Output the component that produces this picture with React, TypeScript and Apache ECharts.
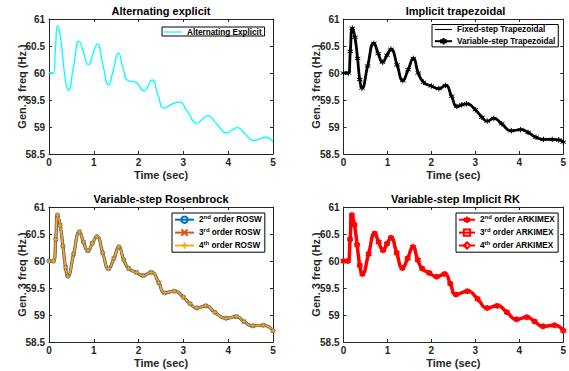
import React, { useEffect, useRef } from 'react';
import * as echarts from 'echarts';

// ---- data ----
const X_TICKS = [0, 1, 2, 3, 4, 5];
const Y_TICKS = [58.5, 59, 59.5, 60, 60.5, 61];

const TITLES = [
  'Alternating explicit',
  'Implicit trapezoidal',
  'Variable-step Rosenbrock',
  'Variable-step Implicit RK',
];

// Alternating explicit
const T_ALT = [0, 0.1, 0.145, 0.19, 0.25, 0.31, 0.37, 0.43, 0.55, 0.67, 0.775, 0.88, 0.98, 1.08, 1.2, 1.33, 1.44, 1.55, 1.65, 1.76, 1.93, 2.12, 2.3, 2.43, 2.57, 2.73, 2.9, 3.1, 3.3, 3.42, 3.54, 3.75, 3.97, 4.08, 4.2, 4.38, 4.57, 4.7, 4.83, 5.0];
const F_ALT = [60.0, 60.0, 60.45, 60.87, 60.70, 60.27, 59.85, 59.68, 60.13, 60.59, 60.37, 60.15, 60.35, 60.54, 60.16, 59.78, 60.07, 60.37, 60.1, 59.86, 59.83, 59.67, 59.87, 59.6, 59.35, 59.42, 59.46, 59.27, 59.07, 59.14, 59.21, 59.05, 58.89, 58.94, 58.99, 58.87, 58.75, 58.78, 58.81, 58.72];

// Implicit trapezoidal (fixed and variable step coincide)
const T_TRAP = [0, 0.11, 0.155, 0.2, 0.26, 0.32, 0.37, 0.42, 0.55, 0.69, 0.79, 0.89, 0.99, 1.08, 1.22, 1.35, 1.47, 1.59, 1.7, 1.82, 2.0, 2.17, 2.32, 2.46, 2.58, 2.69, 2.8, 3.0, 3.15, 3.27, 3.42, 3.6, 3.82, 4.03, 4.2, 4.38, 4.55, 4.75, 4.9, 5.0];
const F_TRAP = [60.0, 60.0, 60.4, 60.83, 60.66, 60.27, 59.88, 59.72, 60.13, 60.55, 60.36, 60.2, 60.33, 60.44, 60.15, 59.86, 60.06, 60.27, 60.0, 59.83, 59.76, 59.71, 59.77, 59.57, 59.38, 59.41, 59.43, 59.32, 59.18, 59.11, 59.16, 59.06, 58.93, 58.95, 58.9, 58.81, 58.77, 58.77, 58.76, 58.72];

// Variable-step Rosenbrock (2nd/3rd/4th order coincide)
const T_ROSW = [0, 0.1, 0.15, 0.19, 0.25, 0.31, 0.37, 0.42, 0.55, 0.68, 0.77, 0.87, 0.97, 1.07, 1.2, 1.33, 1.45, 1.56, 1.67, 1.78, 1.95, 2.1, 2.28, 2.45, 2.58, 2.8, 3.0, 3.15, 3.3, 3.5, 3.7, 3.95, 4.18, 4.35, 4.55, 4.78, 5.0];
const F_ROSW = [60.0, 60.0, 60.4, 60.85, 60.66, 60.28, 59.88, 59.72, 60.13, 60.54, 60.35, 60.19, 60.33, 60.45, 60.15, 59.86, 60.05, 60.26, 60.02, 59.86, 59.79, 59.73, 59.79, 59.6, 59.41, 59.44, 59.33, 59.21, 59.13, 59.17, 59.05, 58.94, 58.97, 58.88, 58.8, 58.81, 58.71];

// Variable-step Implicit RK (2nd/3rd/4th order coincide)
const T_ARK = [0, 0.1, 0.15, 0.19, 0.25, 0.31, 0.37, 0.43, 0.57, 0.71, 0.8, 0.9, 0.99, 1.08, 1.21, 1.34, 1.46, 1.58, 1.69, 1.79, 1.95, 2.12, 2.3, 2.43, 2.56, 2.82, 3.05, 3.27, 3.5, 3.72, 3.94, 4.17, 4.35, 4.54, 4.8, 5.0];
const F_ARK = [60.0, 60.0, 60.4, 60.85, 60.67, 60.3, 59.92, 59.76, 60.13, 60.51, 60.35, 60.2, 60.32, 60.43, 60.15, 59.87, 60.05, 60.26, 60.02, 59.86, 59.78, 59.71, 59.76, 59.58, 59.38, 59.44, 59.3, 59.13, 59.17, 59.05, 58.92, 58.96, 58.88, 58.79, 58.81, 58.71];

const X_LABEL = 'Time (sec)';
const Y_LABEL = 'Gen. 3 freq (Hz.)';

// ---- styling ----
const FONT = '"Liberation Sans", Arial, Helvetica, sans-serif';
const AX = '#262626';
const GRIDS = [
  { left: 49, top: 19, width: 224, height: 135 },
  { left: 343.5, top: 19, width: 224, height: 135 },
  { left: 49, top: 207, width: 224, height: 135 },
  { left: 343.5, top: 207, width: 224, height: 135 },
];

const SYM_STAR = 'path://M5,0L5,10M0.67,2.5L9.33,7.5M0.67,7.5L9.33,2.5';
const SYM_X = 'path://M0,0L10,10M0,10L10,0';
const SYM_PLUS = 'path://M5,0L5,10M0,5L10,5';
const ICON_LINE = 'path://M0,0L40,0L40,2.6L0,2.6Z';

const pairs = (t: number[], f: number[]) => t.map((v, i) => [v, f[i]]);

function buildOption() {
  const xMin = X_TICKS[0], xMax = X_TICKS[X_TICKS.length - 1], xInt = X_TICKS[1] - X_TICKS[0];
  const yMin = Y_TICKS[0], yMax = Y_TICKS[Y_TICKS.length - 1], yInt = Y_TICKS[1] - Y_TICKS[0];
  const lineStyle = { color: AX, width: 1 };
  const xAxis: any[] = [];
  const yAxis: any[] = [];
  GRIDS.forEach((_, gi) => {
    xAxis.push({
      type: 'value', gridIndex: gi, min: xMin, max: xMax, interval: xInt, position: 'bottom',
      axisLine: { show: true, onZero: false, lineStyle },
      axisTick: { show: true, inside: true, length: 3, lineStyle },
      axisLabel: { fontSize: 10, fontWeight: 'bold', color: AX, fontFamily: FONT, margin: 3 },
      splitLine: { show: false },
      name: X_LABEL, nameLocation: 'middle', nameGap: 15, nameMoveOverlap: false,
      nameTextStyle: { fontSize: 11, fontWeight: 'bold', color: AX, fontFamily: FONT },
    });
    xAxis.push({
      type: 'value', gridIndex: gi, min: xMin, max: xMax, interval: xInt, position: 'top',
      axisLine: { show: true, onZero: false, lineStyle },
      axisTick: { show: true, inside: true, length: 3, lineStyle },
      axisLabel: { show: false }, splitLine: { show: false },
    });
    yAxis.push({
      type: 'value', gridIndex: gi, min: yMin, max: yMax, interval: yInt, position: 'left',
      axisLine: { show: true, onZero: false, lineStyle },
      axisTick: { show: true, inside: true, length: 3, lineStyle },
      axisLabel: { fontSize: 10, fontWeight: 'bold', color: AX, fontFamily: FONT, margin: 4 },
      splitLine: { show: false },
      name: Y_LABEL, nameLocation: 'middle', nameGap: 22, nameRotate: 90, nameMoveOverlap: false,
      nameTextStyle: { fontSize: 11, fontWeight: 'bold', color: AX, fontFamily: FONT },
    });
    yAxis.push({
      type: 'value', gridIndex: gi, min: yMin, max: yMax, interval: yInt, position: 'right',
      axisLine: { show: true, onZero: false, lineStyle },
      axisTick: { show: true, inside: true, length: 3, lineStyle },
      axisLabel: { show: false }, splitLine: { show: false },
    });
  });

  const base = (gi: number) => ({
    type: 'line', xAxisIndex: gi * 2, yAxisIndex: gi * 2, smooth: 0.55, silent: true,
    emphasis: { disabled: true }, animation: false,
  });

  const series: any[] = [
    { ...base(0), name: 'Alternating Explicit', data: pairs(T_ALT, F_ALT), symbol: 'none', showSymbol: false,
      lineStyle: { color: '#00FFFF', width: 1.3 }, itemStyle: { color: '#00FFFF' } },

    { ...base(1), name: 'Fixed-step Trapezoidal', data: pairs(T_TRAP, F_TRAP), symbol: 'none', showSymbol: false,
      lineStyle: { color: '#000', width: 1 }, itemStyle: { color: '#000' } },
    { ...base(1), name: 'Variable-step Trapezoidal', data: pairs(T_TRAP, F_TRAP), symbol: SYM_STAR, symbolSize: 5.5,
      lineStyle: { color: '#000', width: 2.8 }, itemStyle: { color: 'none', borderColor: '#000', borderWidth: 1 } },

    { ...base(2), name: '2nd order ROSW', data: pairs(T_ROSW, F_ROSW), symbol: 'circle', symbolSize: 4,
      lineStyle: { color: '#0072BD', width: 3.2 }, itemStyle: { color: 'none', borderColor: '#0072BD', borderWidth: 1 } },
    { ...base(2), name: '3rd order ROSW', data: pairs(T_ROSW, F_ROSW), symbol: SYM_X, symbolSize: 4,
      lineStyle: { color: '#D95319', width: 2.4 }, itemStyle: { color: 'none', borderColor: '#D95319', borderWidth: 1 } },
    { ...base(2), name: '4th order ROSW', data: pairs(T_ROSW, F_ROSW), symbol: SYM_PLUS, symbolSize: 5,
      lineStyle: { color: '#EDB120', width: 1.5 }, itemStyle: { color: 'none', borderColor: '#EDB120', borderWidth: 1 } },

    { ...base(3), name: '2nd order ARKIMEX', data: pairs(T_ARK, F_ARK), symbol: SYM_STAR, symbolSize: 6,
      lineStyle: { color: '#FF0000', width: 3.5 }, itemStyle: { color: 'none', borderColor: '#FF0000', borderWidth: 1 } },
    { ...base(3), name: '3rd order ARKIMEX', data: pairs(T_ARK, F_ARK), symbol: 'rect', symbolSize: 4,
      lineStyle: { color: '#FF0000', width: 1.5 }, itemStyle: { color: 'none', borderColor: '#FF0000', borderWidth: 1 } },
    { ...base(3), name: '4th order ARKIMEX', data: pairs(T_ARK, F_ARK), symbol: 'diamond', symbolSize: 5,
      lineStyle: { color: '#FF0000', width: 1, type: 'dashed' }, itemStyle: { color: 'none', borderColor: '#FF0000', borderWidth: 1 } },
  ];

  const supFmt = (name: string) => name.replace(/^(\d)(st|nd|rd|th) /, '$1{sup|$2} ');
  const legendCommon = {
    orient: 'vertical', selectedMode: false, backgroundColor: '#fff', borderColor: '#000', borderWidth: 1,
    borderRadius: 0, itemGap: 1,
    textStyle: {
      fontSize: 8.2, fontWeight: 'bold', color: '#000', fontFamily: FONT,
      rich: { sup: { fontSize: 6, fontWeight: 'bold', color: '#000', fontFamily: FONT, verticalAlign: 'top', lineHeight: 11 } },
    },
    formatter: supFmt,
  };
  const legend: any[] = [
    { ...legendCommon, data: [{ name: 'Alternating Explicit', icon: ICON_LINE }], left: 162, top: 27, padding: [1, 3, 0, 2], itemWidth: 18, itemHeight: 8, itemGap: 0 },
    { ...legendCommon, data: [{ name: 'Fixed-step Trapezoidal', icon: ICON_LINE }, 'Variable-step Trapezoidal'], left: 432, top: 24.5, padding: [1, 3, 0, 2], itemWidth: 17, itemHeight: 8, itemGap: 2 },
    { ...legendCommon, data: ['2nd order ROSW', '3rd order ROSW', '4th order ROSW'], left: 172, top: 213, padding: [1, 3, 1, 2], itemWidth: 19, itemHeight: 8, itemGap: 1.5 },
    { ...legendCommon, data: ['2nd order ARKIMEX', '3rd order ARKIMEX', '4th order ARKIMEX'], left: 456, top: 213, padding: [1, 3, 1, 2], itemWidth: 16, itemHeight: 8, itemGap: 1.5 },
  ];

  const title = GRIDS.map((g, i) => ({
    text: TITLES[i], left: g.left + g.width / 2, top: g.top - 14, textAlign: 'center', padding: 0,
    textStyle: { fontSize: 11, fontWeight: 'bold', color: '#000', fontFamily: FONT },
  }));

  return {
    animation: false,
    backgroundColor: '#fff',
    title,
    legend,
    grid: GRIDS.map((g) => ({ ...g, containLabel: false, show: false })),
    xAxis,
    yAxis,
    series,
  };
}

export default function App() {
  const ref = useRef<HTMLDivElement>(null);
  useEffect(() => {
    if (!ref.current) return;
    const chart = echarts.init(ref.current, undefined, { renderer: 'svg' });
    chart.setOption(buildOption() as any);
    return () => chart.dispose();
  }, []);
  return (
    <div
      ref={ref}
      style={{ position: 'fixed', left: 0, top: 0, width: 569, height: 371, background: '#fff' }}
    />
  );
}
